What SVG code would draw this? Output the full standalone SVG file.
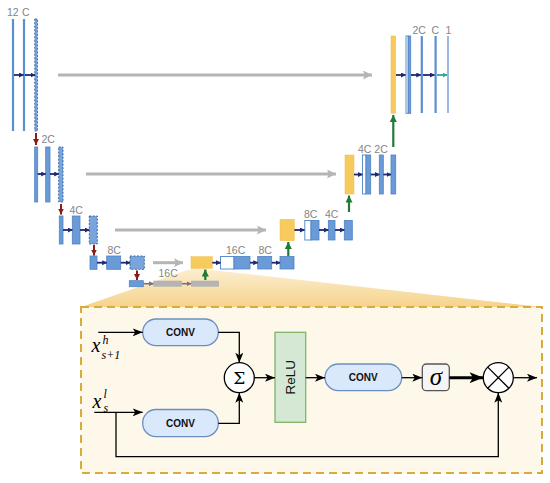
<svg xmlns="http://www.w3.org/2000/svg" width="550" height="483" viewBox="0 0 550 483">
<defs>
<style>
.lbl{font-family:"Liberation Sans",Arial,sans-serif;font-size:10.5px;fill:#858585}
.bar{fill:#6b9bd6;stroke:#4d82c5;stroke-width:0.8}
.thin{stroke:#5b8fd0;stroke-width:2.2}
.dash{fill:#7aa5dc;stroke:#2e5c9a;stroke-width:0.9;stroke-dasharray:2 1.5}
.wbox{fill:#fff;stroke:#5b8fd0;stroke-width:1}
.yel{fill:#f7ca5e;stroke:#efbd4a;stroke-width:0.5}
.gbox{fill:#b4b4b4}
.navy{stroke:#1e2870;stroke-width:1.8;marker-end:url(#mNavy)}
.gray{stroke:#b5b5b5;stroke-width:3;marker-end:url(#mGray)}
.red{stroke:#8c1b1b;stroke-width:2;marker-end:url(#mRed)}
.green{stroke:#1f7a36;stroke-width:2.2;marker-end:url(#mGreen)}
.teal{stroke:#2ba79c;stroke-width:1.8;marker-end:url(#mTeal)}
.pg{stroke:#7b6f88;stroke-width:1.6;marker-end:url(#mPg)}
.blk{stroke:#000;stroke-width:1.3;fill:none;marker-end:url(#mBlk)}
.conv{fill:#dae8fc;stroke:#6c8ebf;stroke-width:1.3}
.ct{font-family:"Liberation Sans",Arial,sans-serif;font-size:10px;font-weight:bold;fill:#111;text-anchor:middle}
.math{font-family:"Liberation Serif","Times New Roman",serif;font-style:italic;fill:#000}
</style>
<marker id="mNavy" viewBox="0 0 10 10" refX="9" refY="5" markerWidth="5" markerHeight="5" markerUnits="userSpaceOnUse" orient="auto"><path d="M0,0 L10,5 L0,10 z" fill="#1e2870"/></marker>
<marker id="mGray" viewBox="0 0 10 10" refX="10" refY="5" markerWidth="10" markerHeight="9" markerUnits="userSpaceOnUse" orient="auto"><path d="M0,0 L10,5 L0,10 L2,5 z" fill="#b5b5b5"/></marker>
<marker id="mRed" viewBox="0 0 10 10" refX="10" refY="5" markerWidth="6" markerHeight="6" markerUnits="userSpaceOnUse" orient="auto"><path d="M0,0 L10,5 L0,10 z" fill="#8c1b1b"/></marker>
<marker id="mGreen" viewBox="0 0 10 10" refX="10" refY="5" markerWidth="7" markerHeight="7" markerUnits="userSpaceOnUse" orient="auto"><path d="M0,0 L10,5 L0,10 z" fill="#1f7a36"/></marker>
<marker id="mTeal" viewBox="0 0 10 10" refX="9" refY="5" markerWidth="5" markerHeight="5" markerUnits="userSpaceOnUse" orient="auto"><path d="M0,0 L10,5 L0,10 z" fill="#2ba79c"/></marker>
<marker id="mPg" viewBox="0 0 10 10" refX="9" refY="5" markerWidth="5" markerHeight="5" markerUnits="userSpaceOnUse" orient="auto"><path d="M0,0 L10,5 L0,10 z" fill="#7b6f88"/></marker>
<marker id="mBlk" viewBox="0 0 10 8" refX="10" refY="4" markerWidth="10" markerHeight="8" markerUnits="userSpaceOnUse" orient="auto"><path d="M0,0 L10,4 L0,8 L2.5,4 z" fill="#000"/></marker>
<marker id="mBlkBig" viewBox="0 0 10 8" refX="10" refY="4" markerWidth="14" markerHeight="11" markerUnits="userSpaceOnUse" orient="auto"><path d="M0,0 L10,4 L0,8 L2.5,4 z" fill="#000"/></marker>
<linearGradient id="wedge" x1="0" y1="0" x2="0" y2="1">
<stop offset="0" stop-color="#fcefd2"/>
<stop offset="1" stop-color="#f5d38c"/>
</linearGradient>
</defs>
<rect width="550" height="483" fill="#fff"/>

<!-- wedge and attention box background -->
<polygon id="wedgeShape" points="193,268 542,307 81,307" fill="url(#wedge)"/>
<g id="attnBox">
<rect x="81" y="307" width="461" height="166" fill="#fdf8ea" stroke="#d9aa3c" stroke-width="2" stroke-dasharray="8 5"/>
</g>

<!-- Encoder level 1 -->
<g id="enc1">
<line class="thin" x1="13" y1="19" x2="13" y2="131"/>
<line class="thin" x1="24" y1="19" x2="24" y2="131"/>
<rect class="dash" x="34.8" y="19" width="2.6" height="112"/>
<text class="lbl" x="7" y="16">12</text>
<text class="lbl" x="22" y="16">C</text>
</g>
<g id="enc2">
<rect class="bar" x="34.7" y="147" width="3" height="55"/>
<rect class="bar" x="45.7" y="147" width="4.3" height="55"/>
<rect class="dash" x="58.7" y="147" width="4.3" height="55"/>
<text class="lbl" x="41.5" y="143">2C</text>
</g>
<g id="enc3">
<rect class="bar" x="59.3" y="216" width="3.7" height="28"/>
<rect class="bar" x="72.3" y="216" width="7.7" height="28"/>
<rect class="dash" x="89.3" y="216" width="8" height="28"/>
<text class="lbl" x="69.5" y="213.5">4C</text>
</g>
<g id="enc4">
<rect class="bar" x="90" y="256" width="7" height="13.3"/>
<rect class="bar" x="106.7" y="256" width="14" height="13.3"/>
<rect class="dash" x="130" y="256" width="14.3" height="13.3"/>
<text class="lbl" x="107.5" y="254">8C</text>
</g>
<g id="bottleneck">
<rect class="bar" x="129.3" y="280.7" width="14" height="6"/>
<rect class="gbox" x="153.3" y="280.7" width="28.4" height="6"/>
<rect class="gbox" x="191" y="280.7" width="28" height="6"/>
<text class="lbl" x="158.5" y="277">16C</text>
</g>

<!-- Decoder level 4 -->
<g id="dec4">
<rect class="yel" x="191" y="256.7" width="21.3" height="11.6"/>
<rect class="wbox" x="220.5" y="256.5" width="13.5" height="12.5"/>
<rect class="bar" x="234" y="256.5" width="16" height="12.5"/>
<rect class="bar" x="257.7" y="256.5" width="14" height="12.5"/>
<rect class="bar" x="280" y="256.5" width="14" height="12.5"/>
<text class="lbl" x="226" y="254">16C</text>
<text class="lbl" x="258.5" y="254">8C</text>
</g>
<g id="dec3">
<rect class="yel" x="280" y="219.3" width="14.3" height="21.4"/>
<rect class="wbox" x="304.8" y="220.5" width="6.2" height="19.5"/>
<rect class="bar" x="311" y="220.5" width="8" height="19.5"/>
<rect class="bar" x="328.3" y="220.5" width="6.7" height="19.5"/>
<rect class="bar" x="344.3" y="220.5" width="8" height="19.5"/>
<text class="lbl" x="304" y="217.5">8C</text>
<text class="lbl" x="325" y="217.5">4C</text>
</g>
<g id="dec2">
<rect class="yel" x="345" y="155" width="9" height="39"/>
<rect class="wbox" x="362.5" y="155" width="3.5" height="39"/>
<rect class="bar" x="366" y="155" width="4.7" height="39"/>
<rect class="bar" x="379.3" y="155" width="4" height="39"/>
<rect class="bar" x="391" y="155" width="4.7" height="39"/>
<text class="lbl" x="358" y="153">4C</text>
<text class="lbl" x="374.3" y="153">2C</text>
</g>
<g id="dec1">
<rect class="yel" x="391" y="36" width="4.7" height="77.3"/>
<rect class="wbox" x="406" y="36" width="2.2" height="77.3"/>
<rect class="bar" x="408.2" y="36" width="2.5" height="77.3"/>
<line class="thin" x1="421.8" y1="36" x2="421.8" y2="113"/>
<line class="thin" x1="435.6" y1="36" x2="435.6" y2="113"/>
<line x1="448" y1="36" x2="448" y2="113" stroke="#8fb0de" stroke-width="1.8"/>
<text class="lbl" x="412.5" y="34">2C</text>
<text class="lbl" x="431.5" y="34">C</text>
<text class="lbl" x="445.5" y="34">1</text>
</g>

<!-- U-Net connectors -->
<g id="unetConnectors">
<line class="navy" x1="14" y1="75" x2="23.5" y2="75"/>
<line class="navy" x1="25" y1="75" x2="35" y2="75"/>
<line class="gray" x1="58" y1="75" x2="372" y2="75"/>
<line class="red" x1="36" y1="133" x2="36" y2="145"/>
<line class="navy" x1="37.7" y1="174" x2="45.7" y2="174"/>
<line class="navy" x1="50" y1="174" x2="58.7" y2="174"/>
<line class="gray" x1="86" y1="174" x2="336" y2="174"/>
<line class="red" x1="61" y1="204" x2="61" y2="214.5"/>
<line class="navy" x1="63" y1="230" x2="72.3" y2="230"/>
<line class="navy" x1="80" y1="230" x2="89.3" y2="230"/>
<line class="gray" x1="115" y1="230" x2="266" y2="230"/>
<line class="red" x1="94" y1="245" x2="94" y2="255.5"/>
<line class="navy" x1="97" y1="262.7" x2="106.7" y2="262.7"/>
<line class="navy" x1="120.7" y1="262.7" x2="130" y2="262.7"/>
<line class="gray" x1="153" y1="262.7" x2="183" y2="262.7"/>
<line class="red" x1="137" y1="270.5" x2="137" y2="280"/>
<line class="pg" x1="143.5" y1="283.7" x2="153.3" y2="283.7"/>
<line class="pg" x1="181.7" y1="283.7" x2="191" y2="283.7"/>
<line class="green" x1="205.3" y1="280" x2="205.3" y2="269.5"/>
<line class="navy" x1="212.3" y1="262.7" x2="220.5" y2="262.7"/>
<line class="navy" x1="250" y1="262.7" x2="257.7" y2="262.7"/>
<line class="navy" x1="271.7" y1="262.7" x2="280" y2="262.7"/>
<line class="green" x1="288.3" y1="256" x2="288.3" y2="242"/>
<line class="navy" x1="294.3" y1="230" x2="304.5" y2="230"/>
<line class="navy" x1="319" y1="230" x2="328.3" y2="230"/>
<line class="navy" x1="335" y1="230" x2="344.3" y2="230"/>
<line class="green" x1="349" y1="212" x2="349" y2="195.5"/>
<line class="navy" x1="354" y1="174.5" x2="362.3" y2="174.5"/>
<line class="navy" x1="370.7" y1="174.5" x2="379.3" y2="174.5"/>
<line class="navy" x1="383.3" y1="174.5" x2="391" y2="174.5"/>
<line class="green" x1="393.3" y1="147" x2="393.3" y2="115"/>
<line class="navy" x1="396" y1="75" x2="405.5" y2="75"/>
<line class="navy" x1="411" y1="75" x2="420.8" y2="75"/>
<line class="navy" x1="423" y1="75" x2="434.5" y2="75"/>
<line class="teal" x1="437" y1="75" x2="447" y2="75"/>
</g>

<!-- Attention gate nodes -->
<g id="conv1">
<rect class="conv" x="142.7" y="319" width="75.6" height="26.7" rx="13.3"/>
<text class="ct" x="180.5" y="336">CONV</text>
</g>
<g id="conv2">
<rect class="conv" x="142.7" y="409.5" width="75.6" height="27.2" rx="13.3"/>
<text class="ct" x="180.5" y="426.6">CONV</text>
</g>
<g id="sum">
<circle cx="239.3" cy="377.7" r="15" fill="#fff" stroke="#000" stroke-width="1.3"/>
<text x="239.3" y="383.8" text-anchor="middle" font-family="'DejaVu Serif','Liberation Serif',serif" font-size="17">Σ</text>
</g>
<g id="relu">
<rect x="275" y="332.3" width="30.7" height="90" fill="#d5e8d4" stroke="#82b366" stroke-width="1.3"/>
<text x="290.3" y="382" transform="rotate(-90 290.3 377.3)" text-anchor="middle" font-family="'Liberation Sans',Arial,sans-serif" font-size="13.5" fill="#111">ReLU</text>
</g>
<g id="conv3">
<rect class="conv" x="325" y="364" width="76.7" height="26.7" rx="13.3"/>
<text class="ct" x="363.3" y="381">CONV</text>
</g>
<g id="sigmoid">
<rect x="422.3" y="364" width="27" height="26.7" rx="4" fill="#f5f5f5" stroke="#555" stroke-width="1.3"/>
<text class="math" x="435.8" y="385" text-anchor="middle" font-size="25">σ</text>
</g>
<g id="mult">
<circle cx="498.3" cy="377.7" r="15" fill="#fff" stroke="#000" stroke-width="1.3"/>
<path d="M487.7,367.1 L508.9,388.3 M508.9,367.1 L487.7,388.3" stroke="#000" stroke-width="1.3"/>
</g>
<g id="inputs">
<text class="math" font-size="20" x="91.5" y="351.5">x</text>
<text class="math" font-size="12" x="102.5" y="343.5">h</text>
<text class="math" font-size="12" x="101.5" y="358.5">s+1</text>
<text class="math" font-size="20" x="92.5" y="407.5">x</text>
<text class="math" font-size="12" x="103.5" y="398">l</text>
<text class="math" font-size="12" x="103.5" y="412">s</text>
</g>

<!-- Attention gate connectors -->
<g id="attnConnectors">
<line class="blk" x1="98.3" y1="332.3" x2="142.7" y2="332.3"/>
<line class="blk" x1="94.3" y1="412.3" x2="142.7" y2="412.3"/>
<path class="blk" d="M218.3,332.3 H239.3 V362.7"/>
<path class="blk" d="M218.3,423.3 H239.3 V392.7"/>
<line class="blk" x1="254.3" y1="377.7" x2="275" y2="377.7"/>
<line class="blk" x1="305.7" y1="377.7" x2="325" y2="377.7"/>
<line class="blk" x1="401.7" y1="377.7" x2="422.3" y2="377.7"/>
<line x1="449.3" y1="377.7" x2="483.3" y2="377.7" stroke="#000" stroke-width="3" marker-end="url(#mBlkBig)"/>
<line class="blk" x1="513.3" y1="377.7" x2="537" y2="377.7"/>
<path class="blk" d="M116,412.3 V456.7 H498.3 V392.7"/>
</g>
</svg>
